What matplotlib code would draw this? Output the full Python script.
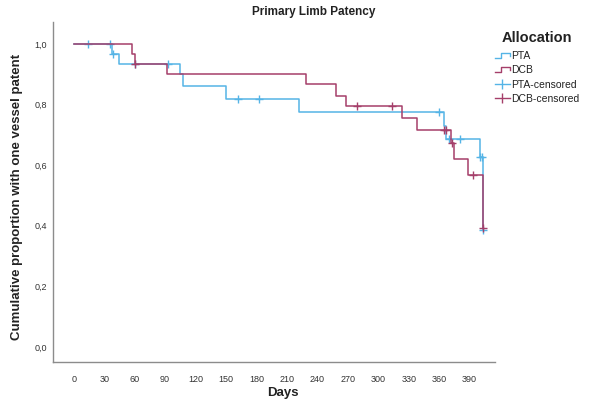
import numpy as np
import matplotlib
matplotlib.use("Agg")
import matplotlib.pyplot as plt
from matplotlib.legend_handler import HandlerBase
from matplotlib.lines import Line2D

plt.rcParams['font.family'] = ['Liberation Sans', 'DejaVu Sans']

# Kaplan-Meier estimates: event times (days) and survival after each event
pta_times = [0, 38, 45, 105, 108, 150, 222, 365, 367, 400, 403]
pta_surv = [1.0, 0.967, 0.933, 0.900, 0.860, 0.818, 0.777, 0.730, 0.688, 0.628, 0.387]
pta_censored = [14, 36, 39, 60, 93, 162, 183, 360, 370, 381, 400.5, 402, 403]

dcb_times = [0, 57, 60, 92, 229, 258, 268, 323, 338, 372, 375, 388, 403]
dcb_surv = [1.0, 0.967, 0.933, 0.900, 0.867, 0.828, 0.795, 0.755, 0.716, 0.672, 0.620, 0.567, 0.394]
dcb_censored = [60, 279, 314, 365, 367, 373, 393, 403]

x_ticks = list(range(0, 391, 30))
y_ticks = [0.0, 0.2, 0.4, 0.6, 0.8, 1.0]

PTA_COLOR = "#55B4E6"
DCB_COLOR = "#A53F6A"


def surv_at(times, surv, t):
    idx = np.searchsorted(times, t, side="right") - 1
    return surv[idx]


fig = plt.figure(figsize=(5.89, 4.0), dpi=100)
ax = fig.add_axes([52.7 / 589, 38 / 400, (495 - 52.7) / 589, (362 - 22) / 400])

for times, surv, cens, color in [
    (pta_times, pta_surv, pta_censored, PTA_COLOR),
    (dcb_times, dcb_surv, dcb_censored, DCB_COLOR),
]:
    t_end = max(max(times), max(cens))
    ax.step(list(times) + [t_end], list(surv) + [surv[-1]], where="post",
            color=color, lw=1.1)
    cy = [surv_at(times, surv, t) for t in cens]
    ax.plot(cens, cy, linestyle="none", marker="+", markersize=5.5,
            markeredgewidth=1.0, color=color)

ax.set_xlim(-20.7, 415)
ax.set_ylim(-0.0495, 1.0726)
ax.set_xticks(x_ticks)
ax.set_xticklabels([str(v) for v in x_ticks])
ax.set_yticks(y_ticks)
ax.set_yticklabels([f"{v:.1f}".replace(".", ",") for v in y_ticks])
ax.tick_params(axis="both", length=0, labelsize=6.5, colors="#333333")
ax.tick_params(axis="x", pad=9)
ax.tick_params(axis="y", pad=4)
for side in ["top", "right"]:
    ax.spines[side].set_visible(False)
for side in ["left", "bottom"]:
    ax.spines[side].set_color("#8c8c8c")
    ax.spines[side].set_linewidth(1.0)

fig.text(314 / 589, 1 - 12 / 400, "Primary Limb Patency", ha="center",
         va="center", fontsize=8.5, fontweight="bold", color="#222222")
fig.text(17 / 589, 1 - 197 / 400, "Cumulative proportion with one vessel patent",
         ha="center", va="center", rotation=90, fontsize=9.5,
         fontweight="bold", color="#222222")
fig.text(283 / 589, 1 - 393 / 400, "Days", ha="center", va="center",
         fontsize=9.5, fontweight="bold", color="#222222")


class StepHandler(HandlerBase):
    def create_artists(self, legend, orig_handle, xdescent, ydescent,
                       width, height, fontsize, trans):
        x0, y0 = -xdescent, -ydescent
        xs = [x0, x0 + 0.4 * width, x0 + 0.4 * width, x0 + width, x0 + width]
        ys = [y0 + 0.15 * height, y0 + 0.15 * height, y0 + 0.85 * height,
              y0 + 0.85 * height, y0 + 0.4 * height]
        line = Line2D(xs, ys, color=orig_handle.get_color(), lw=1.0,
                      transform=trans)
        return [line]


h_pta = Line2D([], [], color=PTA_COLOR)
h_dcb = Line2D([], [], color=DCB_COLOR)
h_pta_c = Line2D([], [], color=PTA_COLOR, marker="|", markersize=7, lw=1.0)
h_dcb_c = Line2D([], [], color=DCB_COLOR, marker="|", markersize=7, lw=1.0)

fig.text(537 / 589, 1 - 38 / 400, "Allocation", ha="center", va="center",
         fontsize=10.5, fontweight="bold", color="#222222")
leg = fig.legend([h_pta, h_dcb, h_pta_c, h_dcb_c],
                 ["PTA", "DCB", "PTA-censored", "DCB-censored"],
                 handler_map={h_pta: StepHandler(), h_dcb: StepHandler()},
                 loc="upper left", bbox_to_anchor=(495 / 589, 1 - 51 / 400),
                 frameon=False, fontsize=7.5, handlelength=1.4,
                 handletextpad=0.1, labelspacing=0.42, borderaxespad=0,
                 borderpad=0)
for txt in leg.get_texts():
    txt.set_color("#222222")

fig.savefig("out.png", dpi=100)
